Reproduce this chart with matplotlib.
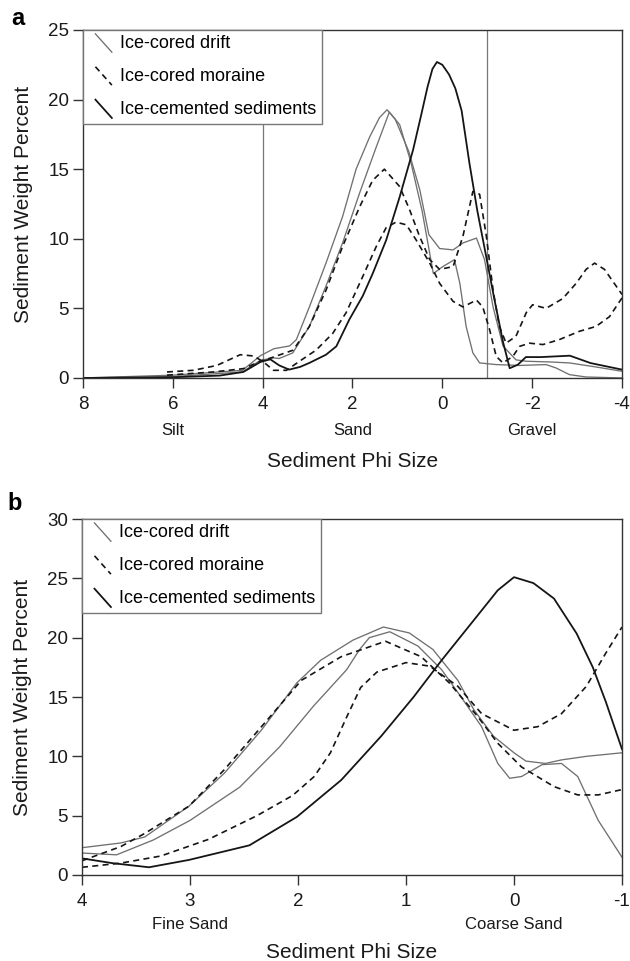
import matplotlib
matplotlib.use('Agg')
import matplotlib.pyplot as plt
from matplotlib.lines import Line2D
from matplotlib.legend_handler import HandlerLine2D

plt.rcParams['font.family'] = ['Liberation Sans', 'DejaVu Sans']
plt.rcParams['axes.unicode_minus'] = False

# ---- panel a : full phi range ----
a_drift1_phi = [8, 6, 4.45, 4.05, 3.75, 3.4, 3.25, 2.96, 2.59, 2.22, 1.92, 1.62, 1.4, 1.23, 1.05, 0.75,
                0.5, 0.3, 0.06, -0.24, -0.46, -0.76, -0.94, -1.13, -1.35, -1.64, -1.87, -2.4, -2.83, -3.4, -4]
a_drift1_val = [0, 0.2, 0.55, 1.6, 2.1, 2.3, 2.75, 5.1, 8.25, 11.6, 15.0, 17.3, 18.7, 19.27, 18.6, 16.3,
                13.5, 10.3, 9.3, 9.2, 9.7, 10.05, 8.5, 5.1, 2.3, 1.3, 1.2, 1.15, 1.08, 0.8, 0.48]

a_drift2_phi = [8, 6, 4.45, 4.05, 3.76, 3.63, 3.33, 2.96, 2.59, 2.22, 1.84, 1.47, 1.18, 0.95, 0.7, 0.45,
                0.2, -0.01, -0.27, -0.39, -0.53, -0.68, -0.83, -1.2, -1.72, -2.31, -2.53, -2.83, -3.2, -4]
a_drift2_val = [0, 0.1, 0.43, 1.27, 1.44, 1.4, 1.8, 3.7, 6.6, 9.7, 13.3, 16.6, 19.1, 18.2, 15.5, 12.0,
                7.5, 8.0, 8.5, 6.8, 3.7, 1.8, 1.08, 0.96, 0.9, 0.96, 0.72, 0.24, 0.07, 0.0]

a_mor1_phi = [6.13, 5.1, 4.43, 4.05, 3.76, 3.32, 2.96, 2.59, 2.22, 1.84, 1.55, 1.29, 0.95, 0.73, 0.51,
              0.28, 0.06, -0.24, -0.46, -0.68, -0.83, -0.98, -1.13, -1.27, -1.42, -1.64, -1.87, -2.01,
              -2.31, -2.68, -2.98, -3.2, -3.39, -3.61, -3.87, -4]
a_mor1_val = [0.2, 0.43, 0.67, 1.2, 1.5, 2.0, 3.7, 6.3, 9.45, 12.3, 14.2, 15.0, 13.75, 12.1, 10.2,
              8.5, 7.8, 8.0, 10.2, 13.4, 13.2, 10.2, 6.3, 3.7, 2.5, 3.0, 4.7, 5.26,
              5.0, 5.7, 6.8, 7.8, 8.25, 7.8, 6.6, 6.0]

a_mor2_phi = [6.13, 5.54, 5.02, 4.5, 4.2, 3.98, 3.76, 3.47, 3.18, 2.81, 2.44, 2.14, 1.77, 1.47, 1.25,
              1.03, 0.8, 0.58, 0.28, 0.06, -0.24, -0.46, -0.76, -0.9, -1.05, -1.2, -1.35, -1.57, -1.72,
              -1.94, -2.24, -2.6, -3.05, -3.42, -3.72, -4]
a_mor2_val = [0.43, 0.55, 0.9, 1.67, 1.58, 1.15, 0.55, 0.55, 1.2, 2.0, 3.2, 4.7, 7.3, 9.45, 10.8,
              11.2, 11.0, 9.9, 8.25, 6.8, 5.5, 5.1, 5.6, 5.1, 3.5, 1.55, 1.08, 1.55, 2.27,
              2.5, 2.4, 2.75, 3.35, 3.7, 4.4, 5.75]

a_cem_phi = [8, 6, 4.96, 4.43, 4.05, 3.83, 3.63, 3.41, 3.17, 2.96, 2.59, 2.36, 2.07, 1.77, 1.55, 1.25,
             0.95, 0.65, 0.47, 0.33, 0.22, 0.12, 0.0, -0.15, -0.29, -0.43, -0.6, -0.78, -0.96, -1.15,
             -1.35, -1.5, -1.68, -1.86, -2.2, -2.84, -3.3, -4]
a_cem_val = [0, 0.05, 0.17, 0.43, 1.15, 1.34, 0.9, 0.6, 0.79, 1.08, 1.67, 2.27, 4.2, 5.9, 7.5, 9.9,
             13.0, 16.4, 18.9, 20.9, 22.2, 22.7, 22.5, 21.8, 20.8, 19.2, 15.5, 12.0, 9.0, 5.8,
             2.6, 0.7, 0.95, 1.5, 1.5, 1.6, 1.07, 0.6]

# ---- panel b : sand range ----
b_drift1_phi = [4, 3.64, 3.42, 3.01, 2.68, 2.34, 2.01, 1.79, 1.49, 1.21, 0.97, 0.75, 0.52, 0.37, 0.19,
                0.0, -0.11, -0.29, -0.44, -0.67, -1]
b_drift1_val = [2.3, 2.7, 3.2, 5.8, 8.6, 12.2, 16.2, 18.1, 19.8, 20.9, 20.4, 19.0, 16.4, 13.9, 11.7,
                10.3, 9.6, 9.4, 9.7, 10.0, 10.3]

b_drift2_phi = [4, 3.68, 3.34, 3.0, 2.54, 2.17, 1.86, 1.55, 1.43, 1.34, 1.15, 0.89, 0.67, 0.49, 0.3,
                0.15, 0.04, -0.07, -0.26, -0.44, -0.59, -0.78, -1]
b_drift2_val = [1.85, 1.7, 2.95, 4.6, 7.4, 10.8, 14.2, 17.3, 19.0, 20.0, 20.5, 19.3, 17.3, 15.0, 12.5,
                9.4, 8.15, 8.3, 9.3, 9.4, 8.3, 4.6, 1.5]

b_mor1_phi = [4, 3.64, 3.42, 3.01, 2.68, 2.31, 1.97, 1.6, 1.19, 0.86, 0.6, 0.34, 0.15, -0.07, -0.37,
              -0.59, -0.78, -1]
b_mor1_val = [1.2, 2.4, 3.5, 5.8, 8.9, 12.8, 16.4, 18.4, 19.7, 18.4, 16.2, 13.4, 11.1, 9.1, 7.45,
              6.75, 6.75, 7.2]

b_mor2_phi = [4, 3.64, 3.27, 2.83, 2.38, 2.05, 1.85, 1.7, 1.55, 1.42, 1.27, 1.0, 0.78, 0.52, 0.3,
              0.0, -0.22, -0.44, -0.67, -0.85, -1]
b_mor2_val = [0.65, 1.0, 1.6, 3.0, 5.0, 6.7, 8.3, 10.3, 13.3, 15.8, 17.1, 17.9, 17.6, 15.9, 13.6,
              12.2, 12.5, 13.6, 15.9, 18.7, 20.9]

b_cem_phi = [4, 3.72, 3.38, 3.01, 2.45, 2.01, 1.6, 1.23, 0.93, 0.67, 0.37, 0.15, 0.0, -0.18, -0.37,
             -0.58, -0.73, -0.85, -1]
b_cem_val = [1.4, 1.0, 0.65, 1.27, 2.5, 4.9, 8.0, 11.7, 15.0, 18.1, 21.5, 24.0, 25.1, 24.6, 23.3,
             20.35, 17.5, 14.6, 10.6]

legend_labels = ['Ice-cored drift', 'Ice-cored moraine', 'Ice-cemented sediments']
a_classes = [(6, 'Silt'), (2, 'Sand'), (-2, 'Gravel')]
b_classes = [(3, 'Fine Sand'), (0, 'Coarse Sand')]
a_bounds = [4, -1]

GRAY = '#707070'
BLACK = '#151515'
drift_kw = dict(color=GRAY, lw=0.95)
mor_kw = dict(color=BLACK, lw=1.2, dashes=(3.6, 2.6))
cem_kw = dict(color=BLACK, lw=1.3)


class DiagonalHandler(HandlerLine2D):
    # legend keys are drawn as short "\" strokes
    def create_artists(self, legend, orig_handle, xdescent, ydescent, width, height, fontsize, trans):
        x0 = -xdescent
        y0 = -ydescent
        line = Line2D([x0 + 0.3 * width, x0 + 1.0 * width],
                      [y0 + 1.15 * height, y0 - 0.3 * height])
        self.update_prop(line, orig_handle, legend)
        line.set_transform(trans)
        return [line]


def style_axes(ax):
    for s in ax.spines.values():
        s.set_color('#333333')
        s.set_linewidth(1.0)
    ax.tick_params(direction='out', length=7, width=1.0, color='#333333',
                   labelsize=13.5, labelcolor='#1a1a1a', pad=6)
    ax.tick_params(axis='y', pad=3)


def add_legend(ax):
    handles = [Line2D([], [], **drift_kw), Line2D([], [], **mor_kw), Line2D([], [], **cem_kw)]
    leg = ax.legend(handles, legend_labels, loc='upper left', borderaxespad=0,
                    fancybox=False, framealpha=1, edgecolor='#777777', fontsize=13,
                    handlelength=1.3, handletextpad=0.45, borderpad=0.3, labelspacing=0.88,
                    handler_map={Line2D: DiagonalHandler()})
    leg.get_frame().set_linewidth(1.0)
    leg.set_zorder(5)


fig = plt.figure(figsize=(6.3, 9.61), dpi=100)

# panel a
ax1 = fig.add_axes([0.1317, 0.6067, 0.8556, 0.3621])
for b in a_bounds:
    ax1.axvline(b, color='#777777', lw=0.9, zorder=1)
ax1.plot(a_drift1_phi, a_drift1_val, **drift_kw)
ax1.plot(a_drift2_phi, a_drift2_val, **drift_kw)
ax1.plot(a_mor1_phi, a_mor1_val, **mor_kw)
ax1.plot(a_mor2_phi, a_mor2_val, **mor_kw)
ax1.plot(a_cem_phi, a_cem_val, **cem_kw)
ax1.set_xlim(8, -4)
ax1.set_ylim(0, 25)
ax1.set_xticks([8, 6, 4, 2, 0, -2, -4])
ax1.set_yticks([0, 5, 10, 15, 20, 25])
style_axes(ax1)
add_legend(ax1)
for x, name in a_classes:
    ax1.annotate(name, xy=(x, 0), xycoords=('data', 'axes fraction'), xytext=(0, -38),
                 textcoords='offset points', ha='center', va='center', fontsize=12, color='#1a1a1a')
ax1.set_xlabel('Sediment Phi Size', fontsize=15, color='#1a1a1a')
ax1.xaxis.set_label_coords(0.5, -0.212)
ax1.set_ylabel('Sediment Weight Percent', fontsize=15, color='#1a1a1a')
ax1.yaxis.set_label_coords(-0.093, 0.5)
fig.text(0.028, 0.981, 'a', fontsize=17, fontweight='bold', ha='center', va='center')

# panel b
ax2 = fig.add_axes([0.1302, 0.0895, 0.8571, 0.3704])
ax2.plot(b_drift1_phi, b_drift1_val, **drift_kw)
ax2.plot(b_drift2_phi, b_drift2_val, **drift_kw)
ax2.plot(b_mor1_phi, b_mor1_val, **mor_kw)
ax2.plot(b_mor2_phi, b_mor2_val, **mor_kw)
ax2.plot(b_cem_phi, b_cem_val, **cem_kw)
ax2.set_xlim(4, -1)
ax2.set_ylim(0, 30)
ax2.set_xticks([4, 3, 2, 1, 0, -1])
ax2.set_yticks([0, 5, 10, 15, 20, 25, 30])
style_axes(ax2)
add_legend(ax2)
for x, name in b_classes:
    ax2.annotate(name, xy=(x, 0), xycoords=('data', 'axes fraction'), xytext=(0, -36),
                 textcoords='offset points', ha='center', va='center', fontsize=12, color='#1a1a1a')
ax2.set_xlabel('Sediment Phi Size', fontsize=15, color='#1a1a1a')
ax2.xaxis.set_label_coords(0.5, -0.192)
ax2.set_ylabel('Sediment Weight Percent', fontsize=15, color='#1a1a1a')
ax2.yaxis.set_label_coords(-0.093, 0.5)
fig.text(0.024, 0.476, 'b', fontsize=17, fontweight='bold', ha='center', va='center')

fig.savefig('out.png', dpi=100)
